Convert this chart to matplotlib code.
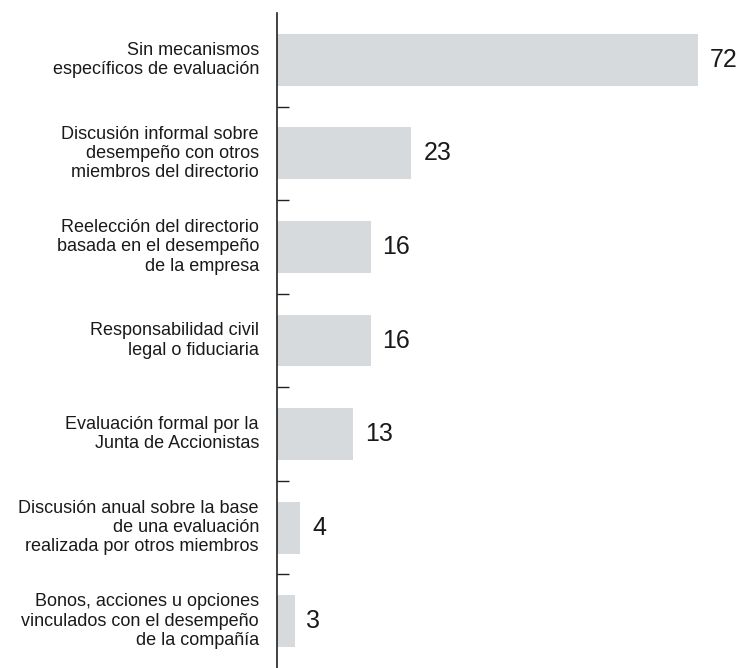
import matplotlib
matplotlib.use("Agg")
import matplotlib.pyplot as plt

categories = [
    "Sin mecanismos\nespecíficos de evaluación",
    "Discusión informal sobre\ndesempeño con otros\nmiembros del directorio",
    "Reelección del directorio\nbasada en el desempeño\nde la empresa",
    "Responsabilidad civil\nlegal o fiduciaria",
    "Evaluación formal por la\nJunta de Accionistas",
    "Discusión anual sobre la base\nde una evaluación\nrealizada por otros miembros",
    "Bonos, acciones u opciones\nvinculados con el desempeño\nde la compañía",
]
values = [72, 23, 16, 16, 13, 4, 3]

plt.rcParams['font.family'] = ['Liberation Sans', 'DejaVu Sans']

fig = plt.figure(figsize=(7.43, 6.68), dpi=100)
ax = fig.add_axes([277 / 743, 0, 1 - 277 / 743, 655 / 668])

pos = list(range(len(values)))
ax.barh(pos, values, height=0.555, color="#d7dadc", align="center")

ax.set_ylim(len(values) - 0.5, -0.5)
ax.set_xlim(0, 79.7)

for p, v in zip(pos, values):
    ax.annotate(str(v), xy=(v, p), xytext=(8.5, 0), textcoords="offset points",
                ha="left", va="center", fontsize=18, color="#1a1a1a")

for p, label in zip(pos, categories):
    ax.annotate(label, xy=(0, p), xytext=(-13, 0), textcoords="offset points",
                ha="right", va="center", fontsize=13, color="#1a1a1a",
                linespacing=1.18, annotation_clip=False)

# ticks sit between categories and point into the plot
ax.set_yticks([p + 0.5 for p in pos[:-1]])
ax.set_yticklabels([])
ax.tick_params(axis="y", direction="in", length=8.5, width=1.0, color="#222222")
ax.set_xticks([])

for side in ["top", "right", "bottom"]:
    ax.spines[side].set_visible(False)
ax.spines["left"].set_color("#222222")
ax.spines["left"].set_linewidth(1.2)

fig.savefig("out.png", dpi=100)
